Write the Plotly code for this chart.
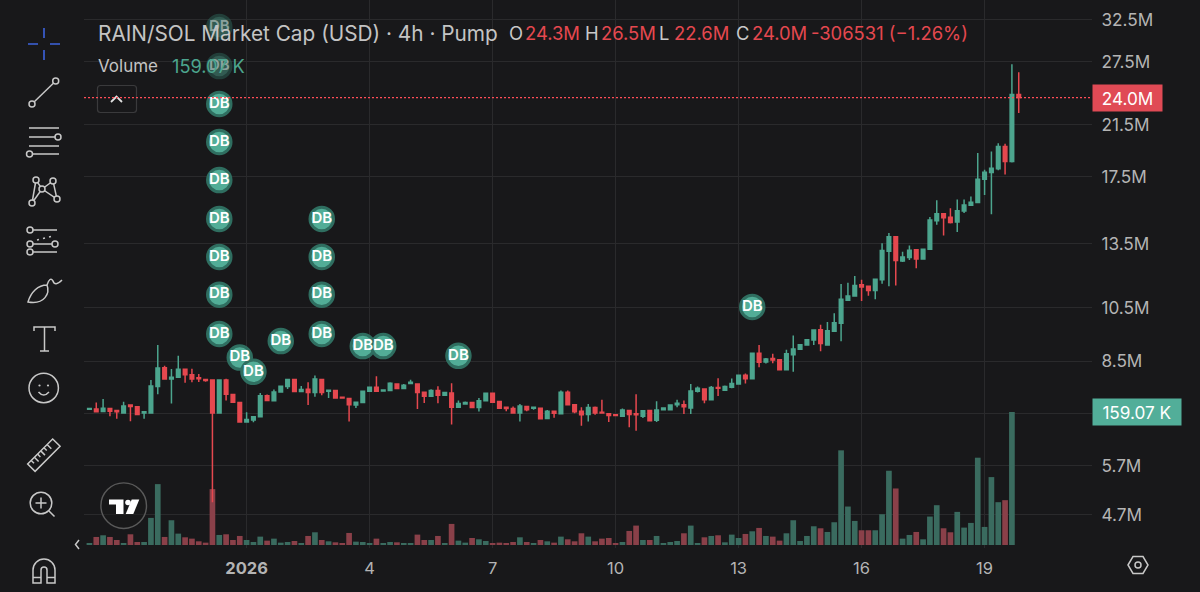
import base64
import math
import pandas as pd
import plotly.graph_objects as go

# ---- data (values in millions USD, volume in thousands) ----
opens = [7.10,7.11,7.04,7.12,7.07,7.00,7.22,7.17,7.00,7.00,7.76,8.35,7.99,8.05,8.30,8.13,8.03,7.98,7.96,7.00,
         7.96,7.52,7.29,6.76,6.81,6.90,7.49,7.34,7.60,7.76,7.98,7.61,7.68,7.58,7.98,7.62,7.64,7.44,7.41,7.22,
         7.29,7.62,7.74,7.63,7.64,7.84,7.70,7.85,7.84,7.59,7.47,7.64,7.50,7.57,7.16,7.25,7.29,7.15,7.34,7.56,
         7.32,7.16,7.12,7.00,7.18,7.13,7.13,6.85,7.05,6.98,7.59,7.23,7.05,6.96,7.15,7.02,6.98,6.95,6.91,7.07,
         6.98,6.91,7.07,6.80,7.09,7.09,7.23,7.23,7.14,7.62,7.69,7.37,7.73,7.65,7.74,7.84,8.11,8.00,8.84,8.54,
         8.66,8.62,8.29,8.79,8.98,9.13,9.31,9.69,9.13,9.63,9.94,10.87,11.05,11.55,11.48,11.29,11.78,13.17,13.93,12.68,
         12.85,13.24,12.77,13.27,14.84,15.25,15.04,14.76,15.41,15.76,15.93,17.45,17.91,18.17,19.82,18.69,24.30]
highs = [7.13,7.29,7.39,7.12,7.08,7.31,7.24,7.18,7.03,7.96,9.13,8.42,8.31,8.75,8.31,8.32,8.15,8.00,7.97,7.98,
         8.00,7.54,7.30,7.02,6.92,7.57,7.52,7.67,7.78,8.00,7.98,7.78,7.89,8.10,7.99,7.65,7.66,7.44,7.42,7.31,
         7.63,7.75,8.08,7.66,7.89,7.85,7.84,7.97,7.85,7.59,7.68,7.77,7.59,7.86,7.35,7.32,7.30,7.42,7.58,7.57,
         7.33,7.16,7.18,7.25,7.19,7.18,7.14,7.08,7.06,7.64,7.64,7.25,7.16,7.25,7.18,7.37,6.99,6.95,7.12,7.08,
         7.53,7.08,7.08,7.33,7.14,7.23,7.37,7.35,7.84,7.76,7.70,7.78,8.02,7.79,8.01,8.12,8.17,8.86,9.13,8.68,
         8.82,8.63,8.96,9.47,9.15,9.33,9.69,9.88,9.99,10.33,11.59,11.64,11.95,11.78,11.50,11.81,13.58,14.14,13.94,13.14,
         13.46,13.27,13.28,15.05,16.07,15.26,15.58,16.11,16.11,16.30,19.33,18.10,19.44,20.08,20.03,27.35,26.50]
lows = [7.09,7.02,7.03,6.91,6.84,7.00,6.78,6.96,6.84,7.00,7.53,7.97,7.26,8.03,7.88,7.89,7.90,7.91,4.94,7.00,
        7.35,7.28,6.76,6.75,6.75,6.89,7.34,7.33,7.59,7.69,7.60,7.60,7.22,7.46,7.50,7.42,7.42,7.41,6.77,7.14,
        7.28,7.61,7.60,7.63,7.62,7.69,7.69,7.85,7.11,7.28,7.46,7.27,7.49,6.69,7.15,7.24,7.14,7.04,7.33,7.29,
        7.12,7.05,6.99,6.77,7.05,7.09,6.83,6.85,6.87,6.98,7.22,6.99,6.66,6.77,6.95,7.00,6.76,6.93,6.91,6.62,
        6.53,6.86,6.78,6.76,7.09,7.09,7.16,6.97,6.97,7.58,7.27,7.36,7.48,7.64,7.71,7.83,7.85,7.99,8.37,8.49,
        8.50,8.28,8.28,8.22,8.97,9.12,9.13,8.91,9.12,9.62,9.26,10.84,11.04,10.84,11.07,10.91,11.60,11.48,11.52,12.62,
        12.73,12.32,12.76,13.26,14.61,14.00,14.68,14.20,15.29,15.75,15.92,16.40,15.22,18.07,17.77,18.62,22.60]
closes = [7.12,7.03,7.13,7.05,7.03,7.19,7.18,6.96,7.03,7.78,8.34,7.99,8.05,8.30,8.13,7.99,8.00,7.95,7.00,7.96,
          7.53,7.30,6.76,6.82,6.90,7.49,7.35,7.60,7.77,7.98,7.61,7.67,7.58,7.99,7.58,7.65,7.42,7.42,7.23,7.30,
          7.62,7.74,7.62,7.66,7.86,7.70,7.80,7.89,7.58,7.47,7.64,7.50,7.58,7.16,7.26,7.29,7.15,7.34,7.56,7.30,
          7.13,7.12,7.00,7.19,7.09,7.16,6.84,7.05,6.99,7.59,7.23,7.03,6.95,7.15,7.00,7.00,6.93,6.93,7.08,6.96,
          6.95,7.06,6.79,7.08,7.14,7.22,7.27,7.17,7.63,7.71,7.37,7.73,7.71,7.76,7.85,8.11,8.00,8.84,8.53,8.64,
          8.61,8.29,8.82,8.99,9.14,9.32,9.68,9.18,9.65,9.96,10.92,11.06,11.52,11.45,11.29,11.80,13.20,13.93,12.70,12.88,
          13.22,12.77,13.27,14.87,15.25,15.01,14.73,15.43,15.78,15.95,17.45,17.93,18.21,19.82,18.69,24.30,24.00]
volumes = [1.6,9.6,11.6,9.6,6.0,2.0,12.8,3.6,3.6,32.4,72.8,9.6,29.6,13.6,9.2,7.6,4.4,2.8,66.8,12.0,
           12.8,6.0,10.8,6.0,3.6,10.0,5.2,7.6,2.8,3.6,4.8,2.4,10.8,15.2,6.0,4.4,3.2,2.0,14.4,4.0,
           3.6,2.0,7.6,2.0,3.6,3.2,2.4,2.0,12.4,6.0,6.0,10.8,2.0,25.2,5.2,2.8,8.4,6.8,4.8,2.0,
           2.8,2.0,3.6,9.2,3.6,2.0,6.0,4.4,2.8,10.0,6.8,4.4,14.0,10.0,4.4,7.6,8.4,1.6,3.6,16.8,
           23.2,6.0,6.0,10.8,1.6,3.6,4.8,14.0,23.2,1.6,9.2,10.8,11.6,3.2,12.4,8.4,13.2,16.4,20.4,10.8,
           10.0,5.2,14.0,29.6,4.8,10.8,22.4,20.0,15.6,27.2,113.2,46.0,28.8,17.6,17.6,17.6,36.8,88.8,67.6,7.6,
           12.0,15.6,6.8,34.0,47.6,20.0,15.2,39.6,20.8,26.4,104.4,21.6,81.2,51.2,53.6,159.07,0.0]
first_candle = "2025-12-28 04:00"

price_ticks = [32.5, 27.6, 21.6, 17.6, 13.55, 10.55, 8.57, 6.99, 5.7, 4.7]
price_labels = ["32.5M", "27.5M", "21.5M", "17.5M", "13.5M", "10.5M", "8.5M", "", "5.7M", "4.7M"]
date_ticks = ["2026-01-01", "2026-01-04", "2026-01-07", "2026-01-10", "2026-01-13", "2026-01-16", "2026-01-19"]
date_labels = ["<b>2026</b>", "4", "7", "10", "13", "16", "19"]

db_index = [19,19,19,19,19,19,19,19,19,22,24,28,34,34,34,34,40,43,54,97]
db_value = [31.63,27.15,23.41,20.18,17.39,14.94,12.88,11.11,9.53,8.69,8.22,9.27,14.94,12.88,11.11,9.53,9.09,9.09,8.75,10.59]

header = [("O",508,"#c9c9c9"),("24.3M",524,"#e5484f"),("H",584,"#c9c9c9"),("26.5M",600,"#e5484f"),
          ("L",658,"#c9c9c9"),("22.6M",673,"#e5484f"),("C",735,"#c9c9c9"),("24.0M",751,"#e5484f"),
          ("-306531 (−1.26%)",810,"#e5484f")]

# ---- style ----
BG = "#18181a"; GRID = "#2a2a2c"; UP = "#4ca58e"; DOWN = "#e5484f"
VOL_UP = "#3a6b5f"; VOL_DOWN = "#8a4049"; TXT = "#c4c4c4"
FONT = "Inter"
W, H = 1200, 592
L, R, T, B = 84, 108, 0, 44
PW, PH = W - L - R, H - T - B

times = pd.date_range(first_candle, periods=len(opens), freq="4h")
vol_colors = [VOL_UP if c >= o else VOL_DOWN for o, c in zip(opens, closes)]

fig = go.Figure()
fig.add_trace(go.Bar(x=times, y=volumes, marker=dict(color=vol_colors, line=dict(width=0)),
                     width=0.83 * 4 * 3600 * 1000, yaxis="y", hoverinfo="skip", showlegend=False))
fig.add_trace(go.Candlestick(x=times, open=opens, high=highs, low=lows, close=closes, yaxis="y2",
                             increasing=dict(line=dict(color=UP, width=1.5), fillcolor=UP),
                             decreasing=dict(line=dict(color=DOWN, width=1.5), fillcolor=DOWN),
                             whiskerwidth=0, hoverinfo="skip", showlegend=False))
db_alpha = [0.45 if i < 2 else 1 for i in range(len(db_index))]
fig.add_trace(go.Scatter(x=[times[i] for i in db_index], y=db_value, yaxis="y2", mode="markers+text",
                         marker=dict(size=23.5, color="#52ad97", opacity=db_alpha,
                                     line=dict(width=3, color="#2f6e60")),
                         text=["DB"] * len(db_index), textposition="middle center",
                         textfont=dict(family=FONT, size=15, weight=600,
                                       color=["rgba(255,255,255,%s)" % a for a in db_alpha]),
                         hoverinfo="skip", showlegend=False))


def px(x):
    return (x - L) / PW


def py(y):
    return 1 - y / PH


annotations = [dict(xref="paper", yref="paper", x=px(97), y=py(33), text="RAIN/SOL Market Cap (USD) · 4h · Pump",
                    showarrow=False, xanchor="left", yanchor="middle", borderpad=0,
                    font=dict(family=FONT, size=20.8, color=TXT)),
               dict(xref="paper", yref="paper", x=px(97), y=py(66), text="Volume", showarrow=False,
                    xanchor="left", yanchor="middle", borderpad=0, font=dict(family=FONT, size=17, color=TXT)),
               dict(xref="paper", yref="paper", x=px(171), y=py(66), text="159.07 K", showarrow=False,
                    xanchor="left", yanchor="middle", borderpad=0, font=dict(family=FONT, size=18.2, color=UP)),
               dict(xref="paper", yref="y2", x=1.0, y=math.log10(closes[-1]), text="24.0M", showarrow=False,
                    xanchor="left", yanchor="middle", width=67, height=24, bgcolor="#e04a55",
                    font=dict(family=FONT, size=17.2, color="#ffffff")),
               dict(xref="paper", yref="y", x=1.0, y=volumes[-2], text="159.07 K", showarrow=False, xanchor="left",
                    yanchor="middle", width=86, height=24, bgcolor="#52ae99",
                    font=dict(family=FONT, size=17.2, color="#ffffff"))]
for label, xpos, color in header:
    annotations.append(dict(xref="paper", yref="paper", x=px(xpos), y=py(33), text=label, showarrow=False,
                            xanchor="left", yanchor="middle", borderpad=0,
                            font=dict(family=FONT, size=18.4, color=color)))

S = 'fill="none" stroke="#c8c8c8" stroke-width="1.5"'


def circ(x, y, r=3):
    return f'<circle cx="{x}" cy="{y}" r="{r}" fill="{BG}" stroke="#c8c8c8" stroke-width="1.5"/>'


icons = f'''<svg xmlns="http://www.w3.org/2000/svg" width="{W}" height="{H}" viewBox="0 0 {W} {H}">
<path d="M44 28V38M44 50V60M28 44H38M50 44H60" fill="none" stroke="#3d63dd" stroke-width="1.6"/>
<path d="M32 104L55.7 81" {S}/>{circ(32,104)}{circ(55.7,81)}
<path d="M29 128H59M29 137H55M29 146H59M32 154H59" {S}/>{circ(58,137)}{circ(29.5,154)}
<path d="M36 180L32 203M36 180L42 189L53 181L57 199L42 189L32 203" {S}/>{circ(36,180)}{circ(53,181)}{circ(42,189)}{circ(32,203)}{circ(57,199)}
<path d="M30 230H57M30 244H55M30 252H57" {S}/>{circ(30,230)}{circ(30,244)}{circ(55,244)}{circ(30,252)}
<path d="M37 240L39 239.5M43 238.5L45 238M49 237L51 236.5" {S}/>
<path d="M28 302C31 292 38 285 47 285C50 293 45 305 28 302ZM47 285Q50 276 53 281Q55 287 62 280" {S}/>
<path d="M34 331V327H55V331M44.5 327V351M40 351H49" {S}/>
<circle cx="43.7" cy="388" r="14.7" {S}/><circle cx="39.5" cy="385.5" r="1.1" fill="#c8c8c8"/><circle cx="48" cy="385.5" r="1.1" fill="#c8c8c8"/><path d="M38.5 392Q43.7 398 49 392" {S}/>
<g transform="rotate(-45 43.7 455)"><rect x="26" y="450" width="35.4" height="10.5" {S}/><path d="M31 450V454M35.5 450V456M40 450V454M44.5 450V456M49 450V454M53.5 450V456" {S}/></g>
<circle cx="41" cy="503" r="10.8" {S}/><path d="M41 497.5V508.5M35.5 503H46.5M49 511L54.5 516.5" {S}/>
<path d="M33 583V570A11 11 0 0 1 55 570V583H47V570A3 3 0 0 0 41 570V583ZM33 577.5H41M47 577.5H55" {S}/>
<path d="M79 540L75.5 544.5L79 549" {S}/>
<rect x="97.5" y="85.5" width="39" height="27" rx="3" fill="{BG}" stroke="#3a3a3c" stroke-width="1.2"/>
<path d="M111 102L116.5 96.500L122 102" fill="none" stroke="#e0e0e0" stroke-width="1.8"/>
<circle cx="123.7" cy="505.700" r="22.8" fill="{BG}" fill-opacity="0.4" stroke="#5a5a5a" stroke-width="1.4"/>
<path d="M109 499.500H123.500V514H116V504.500H109Z" fill="#ffffff"/><circle cx="128" cy="502.500" r="2.8" fill="#ffffff"/>
<path d="M131.700 499.500H139.300L133.300 514H125.700Z" fill="#ffffff"/>
<path d="M1128 565L1133 556.500H1143L1148 565L1143 573.500H1133Z" {S}/><circle cx="1138" cy="565" r="3" {S}/>
</svg>'''
uri = "data:image/svg+xml;base64," + base64.b64encode(icons.encode()).decode()

fig.update_layout(
    width=W, height=H, autosize=False, margin=dict(l=L, r=R, t=T, b=B, pad=0),
    paper_bgcolor=BG, plot_bgcolor=BG, showlegend=False, barmode="overlay", boxgap=0.25,
    font=dict(family=FONT, color=TXT, size=16),
    xaxis=dict(type="date", range=["2025-12-28 00:49", "2026-01-21 14:53"], rangeslider=dict(visible=False),
               tickmode="array", tickvals=date_ticks, ticktext=date_labels, showgrid=True, gridcolor=GRID, gridwidth=1,
               zeroline=False, showline=False, ticks="outside", ticklen=5, tickcolor=BG,
               tickfont=dict(family=FONT, size=16.5, color="#b4b4b4")),
    yaxis=dict(range=[-3.6, 651.8], showgrid=False, zeroline=False, showticklabels=False, fixedrange=True),
    yaxis2=dict(type="log", overlaying="y", side="right", range=[math.log10(4.13), math.log10(35.14)],
                tickmode="array", tickvals=price_ticks, ticktext=price_labels, showgrid=True, gridcolor=GRID,
                gridwidth=1, zeroline=False, showline=False, ticks="outside", ticklen=5, tickcolor=BG,
                tickfont=dict(family=FONT, size=17.2, color="#b4b4b4")),
    annotations=annotations,
    shapes=[dict(type="line", xref="paper", yref="y2", x0=0, x1=1, y0=closes[-1], y1=closes[-1],
                 line=dict(color="#ff4d57", width=1.4, dash="2px,2px"))],
    images=[dict(source=uri, xref="paper", yref="paper", x=px(0), y=py(0), sizex=W / PW, sizey=H / PH,
                 xanchor="left", yanchor="top", sizing="stretch", layer="above")],
)

fig.write_html("out.html", config=dict(displayModeBar=False),
               post_script="document.body.style.margin='0';document.body.style.background='#18181a';")
